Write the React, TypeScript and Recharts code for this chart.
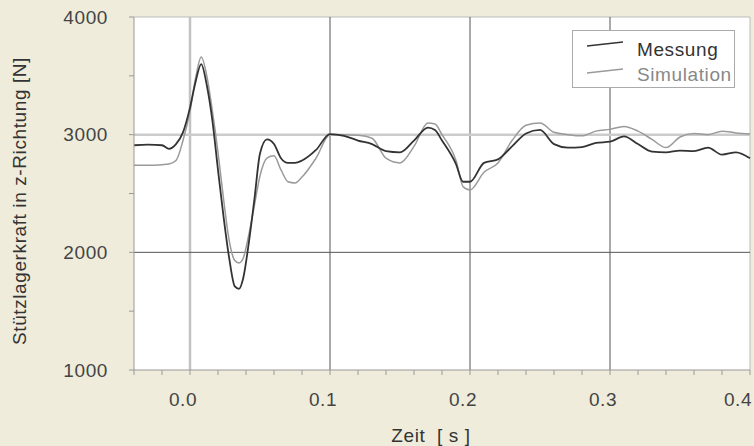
import React from 'react';
import { LineChart, Line, XAxis, YAxis, CartesianGrid, ReferenceLine } from 'recharts';

// Zeit [s]
const TIME = [
  -0.04, -0.03, -0.02, -0.015, -0.01, -0.005, 0.0, 0.004, 0.008, 0.012, 0.016, 0.02, 0.024, 0.028,
  0.032, 0.035, 0.038, 0.042, 0.046, 0.05, 0.055, 0.06, 0.065, 0.07, 0.075, 0.08, 0.09, 0.1,
  0.11, 0.12, 0.13, 0.14, 0.15, 0.16, 0.17, 0.175, 0.18, 0.19, 0.195, 0.2, 0.21, 0.22, 0.23,
  0.24, 0.25, 0.26, 0.27, 0.28, 0.29, 0.3, 0.31, 0.32, 0.33, 0.34, 0.35, 0.36, 0.37, 0.38, 0.39, 0.4,
];

// Stützlagerkraft [N]
const MESSUNG = [
  2910, 2915, 2910, 2880, 2920, 3020, 3230, 3450, 3600, 3420, 3120, 2700, 2300, 1950,
  1710, 1690, 1780, 2080, 2450, 2840, 2960, 2920, 2800, 2760, 2760, 2780, 2870, 3005,
  2990, 2950, 2920, 2860, 2850, 2950, 3060, 3040, 2950, 2750, 2600, 2600, 2760, 2790, 2900,
  3010, 3040, 2920, 2890, 2895, 2930, 2940, 2985, 2920, 2855, 2850, 2865, 2860, 2890, 2830, 2850, 2800,
];

const SIMULATION = [
  2740, 2740, 2745, 2750, 2780, 2950, 3200, 3480, 3660, 3500, 3200, 2850, 2450, 2100,
  1930, 1910, 1950, 2150, 2400, 2650, 2800, 2820, 2700, 2600, 2590, 2640, 2800, 3000,
  3000, 2995, 2970, 2800, 2760, 2900, 3100, 3090, 3000, 2780, 2560, 2530, 2680, 2760, 2950,
  3080, 3100, 3020, 3000, 2990, 3030, 3045, 3070, 3030, 2960, 2890, 2980, 3010, 3000, 3030, 3015, 3005,
];

const X_TICKS = [-0.04, -0.02, 0, 0.02, 0.04, 0.06, 0.08, 0.1, 0.12, 0.14, 0.16, 0.18, 0.2, 0.22, 0.24, 0.26, 0.28, 0.3, 0.32, 0.34, 0.36, 0.38, 0.4];
const Y_TICKS = [1000, 1500, 2000, 2500, 3000, 3500, 4000];

const data = TIME.map((t, i) => ({ t, messung: MESSUNG[i], simulation: SIMULATION[i] }));

const font = 'Liberation Sans, Arial, sans-serif';
const textColor = '#444';
const fs = 19;
const ls = 0.6;

const isMajorX = (v: number) => Math.abs(v * 10 - Math.round(v * 10)) < 1e-6;

const XTick = ({ x, y, payload }: any) => {
  if (!isMajorX(payload.value)) return null;
  // labels sit slightly left of their tick; keep the last one inside the picture
  const cx = Math.min(x - 7, 738);
  return (
    <text x={cx} y={y} dy="0.71em" textAnchor="middle" fill={textColor} fontSize={fs} letterSpacing={ls} fontFamily={font}>
      {payload.value.toFixed(1)}
    </text>
  );
};

const YTick = ({ x, y, payload }: any) => {
  if (payload.value % 1000 !== 0) return null;
  return (
    <text x={x} y={y} dy="0.35em" textAnchor="end" fill={textColor} fontSize={fs} letterSpacing={ls} fontFamily={font}>
      {payload.value}
    </text>
  );
};

const LegendBox = () => (
  <div style={{ position: 'absolute', left: 572, top: 30, width: 163, height: 58, border: '1px solid #aaa', background: '#fff', boxSizing: 'border-box', zIndex: 2 }}>
    <svg width={163} height={58} style={{ position: 'absolute', left: -1, top: -1 }}>
      <line x1={15} y1={16} x2={51} y2={12} stroke="#333" strokeWidth={1.6} />
      <line x1={15} y1={43} x2={51} y2={39} stroke="#9a9a9a" strokeWidth={1.4} />
      <text x={65} y={26} fill="#333" fontSize={fs} letterSpacing={ls} fontFamily={font}>Messung</text>
      <text x={65} y={51} fill="#888" fontSize={fs} letterSpacing={ls} fontFamily={font}>Simulation</text>
    </svg>
  </div>
);

export default function App() {
  return (
    <div style={{ position: 'absolute', left: 0, top: 0, width: 754, height: 446, background: '#efecdb', overflow: 'hidden' }}>
      <LineChart width={754} height={446} data={data} margin={{ top: 17, right: 4, bottom: 0, left: 0 }}>
        <CartesianGrid fill="#ffffff" horizontal={false} vertical={false} />
        <XAxis
          dataKey="t"
          type="number"
          domain={[-0.04, 0.4]}
          ticks={X_TICKS}
          interval={0}
          height={76}
          stroke="#999"
          tickSize={5}
          tickMargin={18}
          tick={<XTick />}
          label={{
            content: () => (
              <text x={431} y={442} textAnchor="middle" fill="#333" fontSize={fs} letterSpacing={ls} fontFamily={font} style={{ whiteSpace: 'pre' }}>
                Zeit  [ s ]
              </text>
            ),
          }}
        />
        <YAxis
          type="number"
          domain={[1000, 4000]}
          ticks={Y_TICKS}
          interval={0}
          width={134}
          stroke="#999"
          tickSize={5}
          tickMargin={21}
          tick={<YTick />}
          label={{
            content: () => (
              <text x={26} y={201} transform="rotate(-90, 26, 201)" textAnchor="middle" fill="#333" fontSize={fs} letterSpacing={ls} fontFamily={font}>
                Stützlagerkraft in z-Richtung [N]
              </text>
            ),
          }}
        />
        <ReferenceLine y={4000} stroke="#bbb" strokeWidth={1} />
        <ReferenceLine x={0.4} stroke="#bbb" strokeWidth={1} />
        <ReferenceLine x={0} stroke="#c2c2c2" strokeWidth={2.5} />
        <ReferenceLine x={0.1} stroke="#555" strokeWidth={1} />
        <ReferenceLine x={0.2} stroke="#555" strokeWidth={1} />
        <ReferenceLine x={0.3} stroke="#555" strokeWidth={1} />
        <ReferenceLine y={3000} stroke="#cccccc" strokeWidth={2.5} />
        <ReferenceLine y={2000} stroke="#555" strokeWidth={1} />
        <Line type="monotone" dataKey="simulation" name="Simulation" stroke="#9a9a9a" strokeWidth={1.5} dot={false} isAnimationActive={false} />
        <Line type="monotone" dataKey="messung" name="Messung" stroke="#333" strokeWidth={1.8} dot={false} isAnimationActive={false} />
      </LineChart>
      <LegendBox />
    </div>
  );
}
